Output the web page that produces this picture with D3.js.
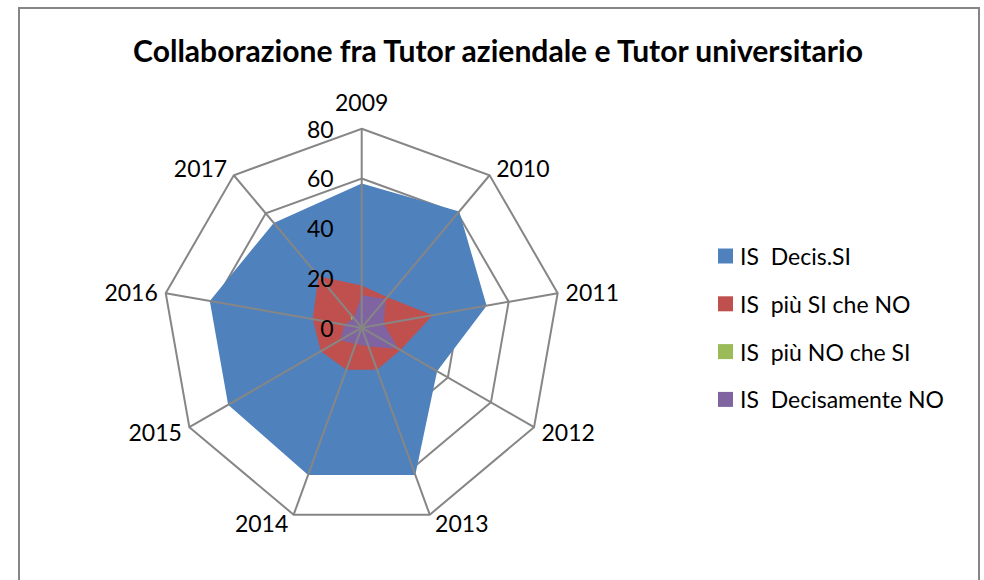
<!DOCTYPE html>
<html>
<head>
<meta charset="utf-8">
<script src="https://cdn.jsdelivr.net/npm/d3@7"></script>
<style>
  body { margin: 0; background: #fff; }
  text { font-family: Lato, "Open Sans", sans-serif; fill: #000; }
</style>
</head>
<body>
<svg id="chart" width="984" height="580"></svg>
<script>
// chart values
var categories = ['2009','2010','2011','2012','2013','2014','2015','2016','2017'];
var decisSi      = [58, 61, 51, 35, 63, 63, 62, 62, 55];
var piuSiCheNo   = [17, 16, 29, 18, 18, 18, 19, 20, 27];
var piuNoCheSi   = [2, 1, 1, 1, 1, 1, 1, 4, 7];
var decisamenteNo= [13, 15, 9, 17, 8, 7, 10, 7, 5];
var seriesNames  = ['IS  Decis.SI','IS  più SI che NO','IS  più NO che SI','IS  Decisamente NO'];
var ticks = [0, 20, 40, 60, 80];

var series = [decisSi, piuSiCheNo, piuNoCheSi, decisamenteNo];
var colors = ['#4F81BD','#C0504D','#9BBB59','#8064A2'];

var svg = d3.select('#chart');
var cx = 361.7, cy = 327.7;

// chart border
svg.append('rect')
	.attr('x',19).attr('y',8)
	.attr('width',960).attr('height',600)
	.attr('fill','none')
	.attr('stroke','#868686')
	.attr('stroke-width',2);

// title
var title = svg.append('text')
	.attr('x',498).attr('y',62)
	.attr('text-anchor','middle')
	.attr('font-weight','bold')
	.attr('font-size','28px')
	.text('Collaborazione fra Tutor aziendale e Tutor universitario');
var tw = title.node().getComputedTextLength();
title.attr('font-size', (28*730/tw).toFixed(2)+'px');

var r = d3.scaleLinear().domain([0,80]).range([0,199]);
var angle = d3.scaleLinear().domain([0,categories.length]).range([0,2*Math.PI]);

var g = svg.append('g').attr('transform','translate('+cx+','+cy+')');

var ringLine = d3.lineRadial()
	.angle(function(d,i){return angle(i);})
	.radius(function(d){return r(d);})
	.curve(d3.curveLinearClosed);

// rings (behind fills)
g.selectAll('.ring').data(ticks.slice(1)).enter()
	.append('path')
	.attr('class','ring')
	.attr('d',function(t){return ringLine(categories.map(function(){return t;}));})
	.attr('fill','none')
	.attr('stroke','#868686')
	.attr('stroke-width',2);

// filled series
g.selectAll('.area').data(series).enter()
	.append('path')
	.attr('class','area')
	.attr('d',function(d){return ringLine(d);})
	.attr('fill',function(d,i){return colors[i];})
	.attr('stroke','none');

// spokes
g.selectAll('.spoke').data(categories).enter()
	.append('line')
	.attr('class','spoke')
	.attr('x1',0).attr('y1',0)
	.attr('x2',function(d,i){return r(80)*Math.sin(angle(i));})
	.attr('y2',function(d,i){return -r(80)*Math.cos(angle(i));})
	.attr('stroke','#868686')
	.attr('stroke-width',2);

// tick labels
g.selectAll('.tick').data(ticks).enter()
	.append('text')
	.attr('class','tick')
	.attr('x',-28)
	.attr('y',function(d){return -r(d);})
	.attr('text-anchor','end')
	.attr('dominant-baseline','central')
	.attr('font-size','23px')
	.text(function(d){return d;});

// category labels
g.selectAll('.cat').data(categories).enter()
	.append('text')
	.attr('class','cat')
	.attr('x',function(d,i){
		var s = Math.sin(angle(i));
		if (Math.abs(s) < 0.05) return 0;
		return r(80)*s + (s>0 ? 1 : -1)*(4+4*Math.abs(s));
	})
	.attr('y',function(d,i){
		var c = Math.cos(angle(i));
		if (Math.abs(Math.sin(angle(i))) < 0.05) return -r(80)-27;
		return -r(80)*c - 9*c;
	})
	.attr('text-anchor',function(d,i){
		var s = Math.sin(angle(i));
		if (Math.abs(s) < 0.05) return 'middle';
		return s>0 ? 'start' : 'end';
	})
	.attr('dominant-baseline','central')
	.attr('font-size','23px')
	.text(function(d){return d;});

// legend
var leg = svg.selectAll('.leg').data(seriesNames).enter()
	.append('g')
	.attr('class','leg')
	.attr('transform',function(d,i){return 'translate(718,'+(256+i*47.8)+')';});
leg.append('rect')
	.attr('x',0).attr('y',-7.5)
	.attr('width',15).attr('height',15)
	.attr('fill',function(d,i){return colors[i];});
leg.append('text')
	.attr('x',22).attr('y',0)
	.attr('dominant-baseline','central')
	.attr('font-size','23px')
	.style('white-space','pre')
	.text(function(d){return d;});
</script>
</body>
</html>
